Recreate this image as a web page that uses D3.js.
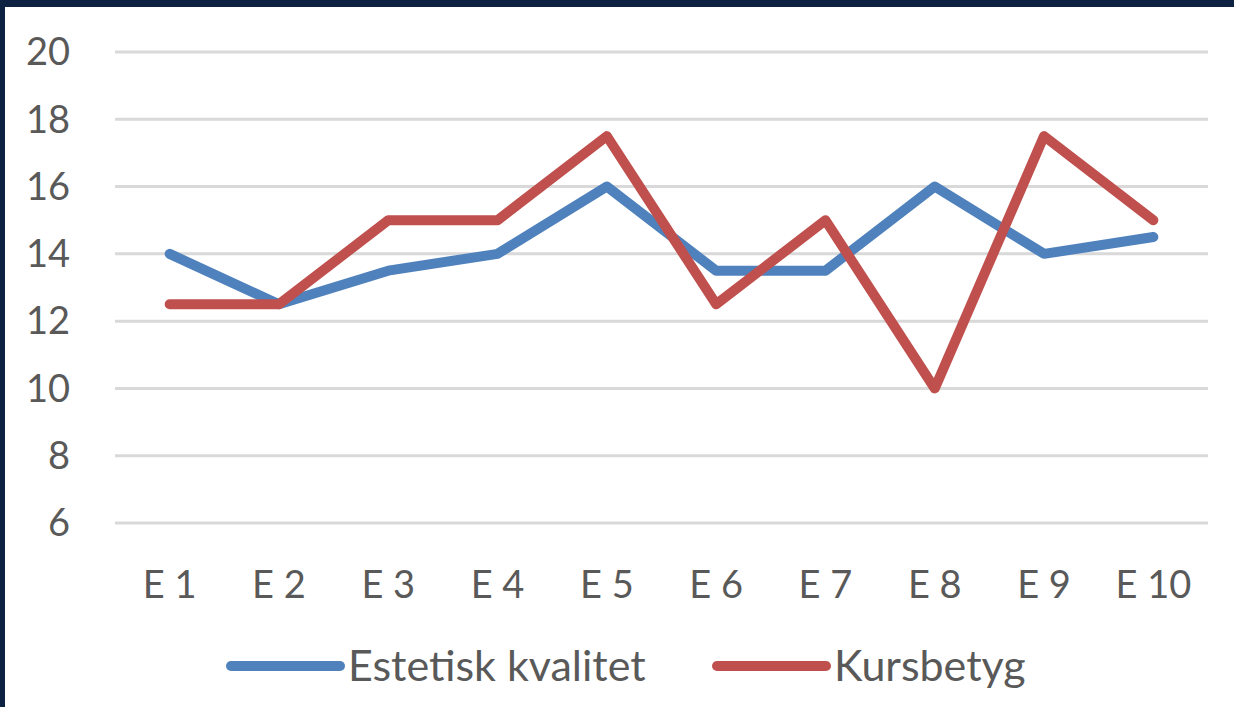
<!DOCTYPE html>
<html>
<head>
<meta charset="utf-8">
<script src="https://cdn.jsdelivr.net/npm/d3@7"></script>
<style>
  body { margin: 0; background: #0d2242; }
  svg { display: block; }
</style>
</head>
<body>
<div id="chart"></div>
<script>
// categories and series
const categories = ["E 1", "E 2", "E 3", "E 4", "E 5", "E 6", "E 7", "E 8", "E 9", "E 10"];
const estetisk = [14, 12.5, 13.5, 14, 16, 13.5, 13.5, 16, 14, 14.5];
const kursbetyg = [12.5, 12.5, 15, 15, 17.5, 12.5, 15, 10, 17.5, 15];
const yTicks = [6, 8, 10, 12, 14, 16, 18, 20];
const seriesNames = ["Estetisk kvalitet", "Kursbetyg"];
const seriesColors = ["#4f81bd", "#c0504d"];

const W = 1234, H = 707;
const margin = {top: 52, right: 26, bottom: 184, left: 115};
const width = W - margin.left - margin.right,
      height = H - margin.top - margin.bottom;

const font = "Lato, 'Open Sans', sans-serif";

const root = d3.select("#chart").append("svg")
    .attr("width", W)
    .attr("height", H);

// dark frame, then white chart area
root.append("rect").attr("width", W).attr("height", H).attr("fill", "#0d2242");
root.append("rect").attr("x", 5).attr("y", 7).attr("width", W - 5).attr("height", H - 7).attr("fill", "#ffffff");

const svg = root.append("g")
    .attr("transform", `translate(${margin.left},${margin.top})`);

const x = d3.scalePoint()
    .domain(categories)
    .range([0, width])
    .padding(0.5);

const y = d3.scaleLinear()
    .domain([6, 20])
    .range([height, 0]);

// gridlines
svg.append("g")
  .selectAll("line")
  .data(yTicks)
  .enter().append("line")
    .attr("x1", 0)
    .attr("x2", width)
    .attr("y1", d => y(d))
    .attr("y2", d => y(d))
    .attr("stroke", "#d9d9d9")
    .attr("stroke-width", 3);

// y labels
svg.append("g")
  .selectAll("text")
  .data(yTicks)
  .enter().append("text")
    .attr("x", -45)
    .attr("y", d => y(d))
    .attr("dy", "0.35em")
    .attr("text-anchor", "end")
    .attr("font-family", font)
    .attr("font-size", 38)
    .attr("fill", "#595959")
    .text(d => d);

// x labels
svg.append("g")
  .selectAll("text")
  .data(categories)
  .enter().append("text")
    .attr("x", d => x(d))
    .attr("y", height + 62)
    .attr("dy", "0.35em")
    .attr("text-anchor", "middle")
    .attr("font-family", font)
    .attr("font-size", 38)
    .attr("fill", "#595959")
    .text(d => d);

const line = d3.line()
    .x((d, i) => x(categories[i]))
    .y(d => y(d));

[estetisk, kursbetyg].forEach((values, k) => {
  svg.append("path")
    .datum(values)
    .attr("fill", "none")
    .attr("stroke", seriesColors[k])
    .attr("stroke-width", 10)
    .attr("stroke-linejoin", "round")
    .attr("stroke-linecap", "round")
    .attr("d", line);
});

// legend
const legendX = [227, 713];
const legendY = 666;
seriesNames.forEach((name, k) => {
  const g = root.append("g").attr("transform", `translate(${legendX[k]},${legendY})`);
  g.append("line")
    .attr("x1", 4).attr("x2", 113)
    .attr("stroke", seriesColors[k])
    .attr("stroke-width", 10)
    .attr("stroke-linecap", "round");
  g.append("text")
    .attr("x", 121)
    .attr("dy", "0.35em")
    .attr("font-family", font)
    .attr("font-size", 43)
    .attr("fill", "#595959")
    .text(name);
});
</script>
</body>
</html>
